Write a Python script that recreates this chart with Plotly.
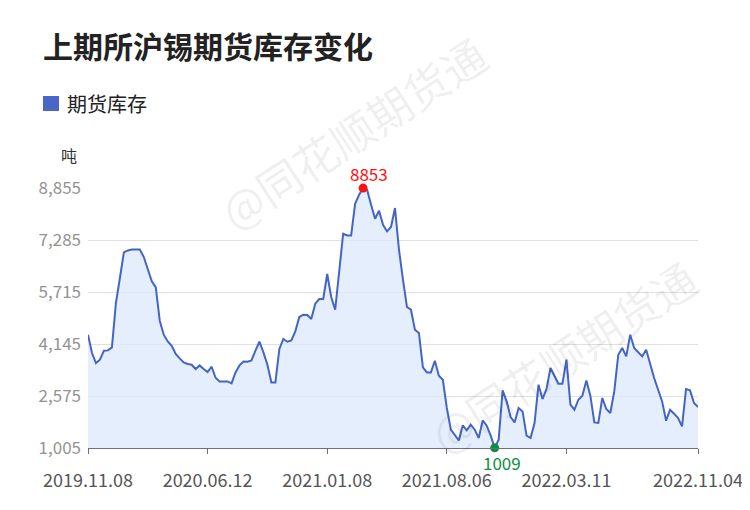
import plotly.graph_objects as go
import numpy as np

# ---- data ----
inventory = [
    4426, 3873, 3571, 3670, 3942, 3952, 4042, 5383, 6137, 6910,
    6970, 7000, 7000, 7000, 6771, 6388, 6035, 5854, 4848, 4426,
    4223, 4093, 3843, 3710, 3589, 3541, 3520, 3390, 3499, 3390,
    3299, 3459, 3127, 3016, 3016, 3016, 2955, 3287, 3499, 3619,
    3610, 3650, 3942, 4214,
    3891, 3520, 2985, 2985, 3994, 4296, 4214, 4254, 4526, 4960,
    5029, 5020, 4900, 5361, 5503, 5503, 6258, 5564, 5180, 6288,
    7475, 7423, 7423, 8380, 8652, 8853, 8803, 8350, 7927, 8169,
    7746, 7544, 7677, 8250, 6991, 6086, 5262, 5180, 4577, 4477,
    3438, 3287, 3287,
    3640, 3188, 3067, 2213, 1558, 1376, 1235, 1688, 1537, 1708,
    1558, 1307, 1838, 1678, 1376, 1009, 1256, 2744, 2412, 1941,
    1778, 2213, 2110, 1376, 1307, 1760, 2916, 2484, 2786, 3420,
    3188, 2946, 2946, 3671,
    2312, 2161, 2463, 2584, 3046, 2584, 1778, 1760, 2514, 2182,
    2062, 2714, 3822, 4024, 3770, 4426, 4024, 3891, 3770, 3972,
    3520, 3118, 2765, 2412, 1830, 2161, 2041, 1911, 1657, 2786,
    2744, 2364, 2243,
]
tick_positions = [0, 30, 60, 90, 120, 153]
tick_labels = ["2019.11.08", "2020.06.12", "2021.01.08", "2021.08.06", "2022.03.11", "2022.11.04"]
y_ticks = [1005, 2575, 4145, 5715, 7285, 8855]
series_name = "期货库存"
title_text = "上期所沪锡期货库存变化"
unit_text = "吨"
watermark = "@同花顺期货通"

x = list(range(len(inventory)))
imax = int(np.argmax(inventory))
imin = int(np.argmin(inventory))

FONT = "Noto Sans CJK SC"
LINE = "#4565c5"

fig = go.Figure()
fig.add_trace(go.Scatter(
    x=x, y=inventory, mode="lines", name=series_name,
    line=dict(color=LINE, width=2),
    fill="tozeroy", fillcolor="rgba(222,234,253,0.8)",
    showlegend=False, hoverinfo="skip",
))
fig.add_trace(go.Scatter(
    x=[imax], y=[inventory[imax]], mode="markers", cliponaxis=False,
    marker=dict(color="#ff1010", size=9), showlegend=False, hoverinfo="skip",
))
fig.add_trace(go.Scatter(
    x=[imin], y=[inventory[imin]], mode="markers", cliponaxis=False,
    marker=dict(color="#118c3c", size=9), showlegend=False, hoverinfo="skip",
))

annotations = [
    dict(x=imax, y=inventory[imax], xref="x", yref="y", text=str(inventory[imax]),
         showarrow=False, xshift=6, yshift=15, font=dict(family=FONT, size=17, color="#ff1010")),
    dict(x=imin, y=inventory[imin], xref="x", yref="y", text=str(inventory[imin]),
         showarrow=False, xshift=7, yshift=-15, font=dict(family=FONT, size=17, color="#118c3c")),
    dict(x=(79 - 88) / 610, y=(448 - 155) / 260, xref="paper", yref="paper", text=unit_text,
         showarrow=False, xanchor="right", yanchor="middle", font=dict(family=FONT, size=16, color="#333")),
    dict(x=(65 - 88) / 610, y=(448 - 103) / 260, xref="paper", yref="paper", text=series_name,
         showarrow=False, xanchor="left", yanchor="middle", font=dict(family=FONT, size=20, color="#222")),
    dict(x=(353 - 88) / 610, y=(448 - 132) / 260, xref="paper", yref="paper", text=watermark,
         showarrow=False, textangle=-33, xanchor="center", yanchor="middle",
         font=dict(family=FONT, size=44, color="rgba(0,0,0,0.075)")),
    dict(x=(563 - 88) / 610, y=(448 - 356) / 260, xref="paper", yref="paper", text=watermark,
         showarrow=False, textangle=-33, xanchor="center", yanchor="middle",
         font=dict(family=FONT, size=44, color="rgba(0,0,0,0.075)")),
]

shapes = [
    dict(type="rect", xref="paper", yref="paper",
         x0=(43 - 88) / 610, x1=(59 - 88) / 610, y0=(448 - 111) / 260, y1=(448 - 96) / 260,
         fillcolor="#4a67c8", line=dict(width=0)),
]

# page body has an 8px margin: figure drawn from (8,8)
W, H = 742, 502
fig.update_layout(
    width=W, height=H,
    margin=dict(l=80, r=52, t=180, b=62, autoexpand=False),
    paper_bgcolor="white", plot_bgcolor="white",
    title=dict(text=title_text, xref="container", yref="container", x=35 / W, xanchor="left",
               y=1 - 39 / H, yanchor="middle",
               font=dict(family=FONT, size=30, color="#222", weight=700)),
    annotations=annotations, shapes=shapes,
    xaxis=dict(range=[0, len(inventory) - 1], tickmode="array", tickvals=tick_positions,
               ticktext=tick_labels, showgrid=False, zeroline=False, automargin=False,
               showline=True, linecolor="#6e7079", linewidth=1,
               ticks="outside", ticklen=5, tickcolor="#6e7079",
               ticklabelstandoff=11,
               tickfont=dict(family=FONT, size=18, color="#555")),
    yaxis=dict(range=[y_ticks[0], y_ticks[-1]], tickmode="array", tickvals=y_ticks,
               tickformat=",d", showgrid=True, gridcolor="#e0e0e0", gridwidth=1,
               zeroline=False, showline=False, ticks="", automargin=False,
               ticklabelstandoff=6,
               tickfont=dict(family=FONT, size=17, color="#939393")),
    hovermode=False,
)

fig.write_html("out.html")
